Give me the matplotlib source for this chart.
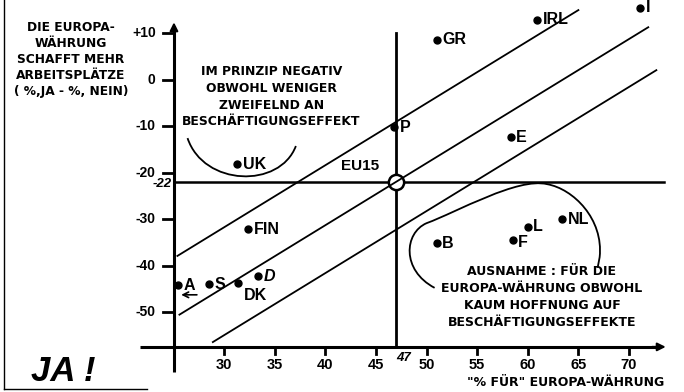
import matplotlib
matplotlib.use("Agg")
import matplotlib.pyplot as plt
from matplotlib.path import Path
from matplotlib.patches import PathPatch

plt.rcParams['font.family'] = ['Liberation Sans', 'DejaVu Sans']
plt.rcParams['font.weight'] = 'bold'

# country scores: share for the euro vs. (% yes - % no) on jobs
countries = ["I", "IRL", "GR", "P", "E", "UK", "FIN", "A", "S", "DK", "D", "B", "F", "L", "NL"]
pro_euro = [71.1, 60.9, 51.0, 46.8, 58.3, 31.3, 32.4, 25.5, 28.5, 31.4, 33.4, 51.0, 58.5, 60.0, 63.4]
jobs_balance = [15.4, 12.8, 8.5, -10.3, -12.4, -18.2, -32.2, -44.2, -44.0, -43.8, -42.3, -35.2, -34.5, -31.7, -30.0]

eu15_x = 47
eu15_y = -22

x_ticks = [30, 35, 40, 45, 50, 55, 60, 65, 70]
y_ticks = [10, 0, -10, -20, -30, -40, -50]
y_tick_labels = ["+10", "0", "-10", "-20", "-30", "-40", "-50"]

# label offsets (points) where the default right-hand label would not fit
label_offset = {"DK": (4, -9), "F": (4, -2)}
italic_labels = {"D"}

# wider face for the text blocks
block_font = ['DejaVu Sans']

fig = plt.figure(figsize=(6.84, 3.92), dpi=100)
ax = fig.add_axes([0, 0, 1, 1])
ax.set_xlim(7.88, 75.43)
ax.set_ylim(-67.2, 17.1)
ax.axis("off")

x_axis_y = -57.5
y_axis_x = 25.06

# page border
ax.plot([8.3, 8.3], [-66.6, 17.1], color="black", lw=1.0)
ax.plot([8.3, 22.4], [-66.6, -66.6], color="black", lw=1.0)

# axes with arrows
ax.plot([21.7, 73.0], [x_axis_y, x_axis_y], color="black", lw=2.2, solid_capstyle="butt")
ax.annotate("", xy=(73.9, x_axis_y), xytext=(72.0, x_axis_y),
            arrowprops=dict(arrowstyle="-|>", color="black", lw=1.5, mutation_scale=12))
ax.plot([y_axis_x, y_axis_x], [-62.9, 11.5], color="black", lw=2.2, solid_capstyle="butt")
ax.annotate("", xy=(y_axis_x, 12.9), xytext=(y_axis_x, 10.5),
            arrowprops=dict(arrowstyle="-|>", color="black", lw=1.5, mutation_scale=12))

for xt in x_ticks:
    ax.plot([xt, xt], [x_axis_y, x_axis_y - 1.6], color="black", lw=2.0)
    ax.text(xt, -61.5, str(xt), ha="center", va="center", fontsize=10.5)
for yt, lab in zip(y_ticks, y_tick_labels):
    ax.plot([y_axis_x - 1.1, y_axis_x], [yt, yt], color="black", lw=2.0)
    ax.text(y_axis_x - 1.8, yt, lab, ha="right", va="center", fontsize=10)

# EU15 reference cross
ax.plot([eu15_x, eu15_x], [10, x_axis_y], color="black", lw=2.0, zorder=2)
ax.plot([y_axis_x, 73.5], [eu15_y, eu15_y], color="black", lw=1.8, zorder=2)
ax.text(y_axis_x - 0.2, eu15_y - 0.4, "-22", ha="right", va="center", fontsize=9.5, style="italic")
ax.text(eu15_x + 0.7, -59.9, "47", ha="center", va="center", fontsize=9.5, style="italic")
ax.plot(eu15_x, eu15_y, "o", ms=11, mfc="white", mec="black", mew=1.8, zorder=4)
ax.text(43.4, -18.6, "EU15", ha="center", va="center", fontsize=11)

# diagonal band
slope = 1.335
for shift, x0, x1 in [(12.9, 25.4, 65.0), (0.0, 25.6, 71.9), (-10.3, 28.9, 72.7)]:
    ys = [eu15_y + shift + slope * (x - eu15_x) for x in (x0, x1)]
    ax.plot([x0, x1], ys, color="black", lw=1.3, zorder=5)

# country points
ax.plot(pro_euro, jobs_balance, "o", color="black", ms=5, zorder=6, clip_on=False)
for name, x, y in zip(countries, pro_euro, jobs_balance):
    dx, dy = label_offset.get(name, (4, 0))
    ax.annotate(name, (x, y), xytext=(dx, dy), textcoords="offset points",
                ha="left", va="center", fontsize=11.5,
                style="italic" if name in italic_labels else "normal")
ax.annotate("", xy=(25.5, -46.3), xytext=(27.6, -46.3),
            arrowprops=dict(arrowstyle="->", color="black", lw=1.2))

# outline around the UK group
uk_curve = Path([(26.4, -12.6), (28.0, -23.0), (35.5, -23.5), (37.1, -14.3)],
                [Path.MOVETO, Path.CURVE4, Path.CURVE4, Path.CURVE4])
ax.add_patch(PathPatch(uk_curve, fill=False, lw=1.3, color="black"))

# outline around B, F, L, NL
blob = Path([(50.8, -44.8), (47.5, -41.0), (47.8, -33.0), (50.0, -30.9),
             (53.0, -28.5), (59.0, -21.0), (61.9, -22.5),
             (64.5, -23.5), (67.5, -30.0), (67.1, -38.2),
             (66.9, -40.5)],
            [Path.MOVETO, Path.CURVE4, Path.CURVE4, Path.CURVE4,
             Path.CURVE4, Path.CURVE4, Path.CURVE4,
             Path.CURVE4, Path.CURVE4, Path.CURVE4,
             Path.LINETO])
ax.add_patch(PathPatch(blob, fill=False, lw=1.3, color="black"))

# annotations
ax.text(14.9, 4.3, "DIE EUROPA-\nWÄHRUNG\nSCHAFFT MEHR\nARBEITSPLÄTZE\n( %,JA - %, NEIN)",
        ha="center", va="center", fontsize=8.8, linespacing=1.3, family=block_font)
ax.text(34.7, -3.7, "IM PRINZIP NEGATIV\nOBWOHL WENIGER\nZWEIFELND AN\nBESCHÄFTIGUNGSEFFEKT",
        ha="center", va="center", fontsize=8.9, linespacing=1.38, family=block_font)
ax.text(61.4, -46.8, "AUSNAHME : FÜR DIE\nEUROPA-WÄHRUNG OBWOHL\nKAUM HOFFNUNG AUF\nBESCHÄFTIGUNGSEFFEKTE",
        ha="center", va="center", fontsize=9.0, linespacing=1.4, family=block_font)
ax.text(63.7, -65.1, "\"% FÜR\" EUROPA-WÄHRUNG", ha="center", va="center", fontsize=9.0,
        family=block_font)
ax.text(14.1, -62.7, "JA !", ha="center", va="center", fontsize=25, style="italic")

fig.savefig("out.png", dpi=100)
